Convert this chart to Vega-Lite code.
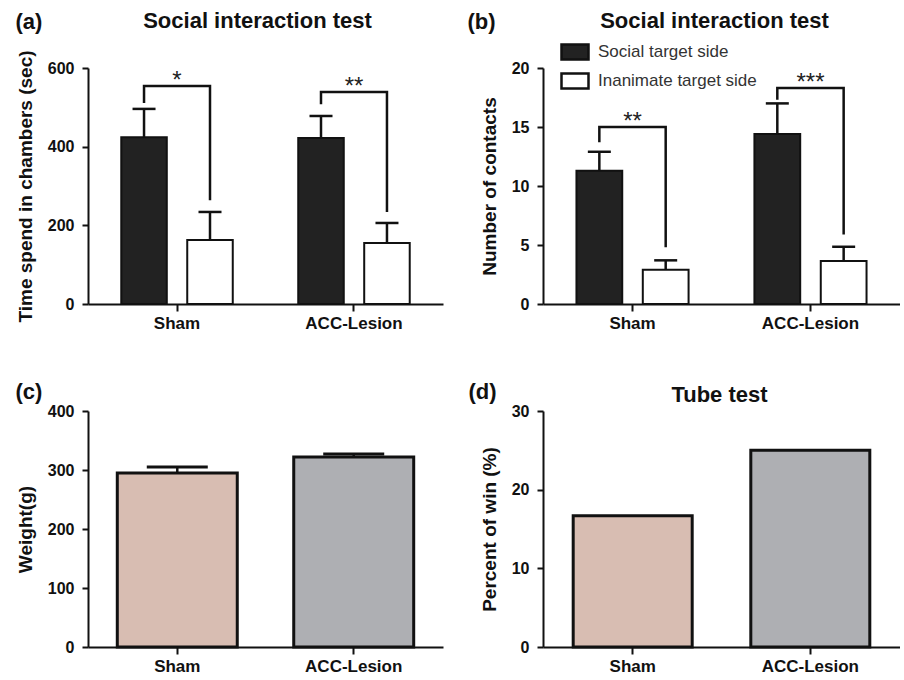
{
  "$schema": "https://vega.github.io/schema/vega-lite/v6.json",
  "background": "white",
  "padding": {"left": 15, "top": 10, "right": 0, "bottom": 0},
  "datasets": {
    "a_bars": [
      {"group": "Sham", "side": "Social target side", "mean": 424, "upper": 496},
      {"group": "Sham", "side": "Inanimate target side", "mean": 163, "upper": 234},
      {"group": "ACC-Lesion", "side": "Social target side", "mean": 422, "upper": 478},
      {"group": "ACC-Lesion", "side": "Inanimate target side", "mean": 155, "upper": 206}
    ],
    "a_brackets": [
      {"group": "Sham", "side": "Social target side", "level": 511, "ord": 1},
      {"group": "Sham", "side": "Social target side", "level": 554, "ord": 2},
      {"group": "Sham", "side": "Inanimate target side", "level": 554, "ord": 3},
      {"group": "Sham", "side": "Inanimate target side", "level": 264, "ord": 4},
      {"group": "ACC-Lesion", "side": "Social target side", "level": 508, "ord": 1},
      {"group": "ACC-Lesion", "side": "Social target side", "level": 539, "ord": 2},
      {"group": "ACC-Lesion", "side": "Inanimate target side", "level": 539, "ord": 3},
      {"group": "ACC-Lesion", "side": "Inanimate target side", "level": 234, "ord": 4}
    ],
    "a_stars": [
      {"group": "Sham", "stars": "*", "level": 554},
      {"group": "ACC-Lesion", "stars": "**", "level": 539}
    ],
    "b_bars": [
      {"group": "Sham", "side": "Social target side", "mean": 11.3, "upper": 12.9},
      {"group": "Sham", "side": "Inanimate target side", "mean": 2.9, "upper": 3.7},
      {"group": "ACC-Lesion", "side": "Social target side", "mean": 14.4, "upper": 17.0},
      {"group": "ACC-Lesion", "side": "Inanimate target side", "mean": 3.65, "upper": 4.85}
    ],
    "b_brackets": [
      {"group": "Sham", "side": "Social target side", "level": 13.7, "ord": 1},
      {"group": "Sham", "side": "Social target side", "level": 15.0, "ord": 2},
      {"group": "Sham", "side": "Inanimate target side", "level": 15.0, "ord": 3},
      {"group": "Sham", "side": "Inanimate target side", "level": 4.8, "ord": 4},
      {"group": "ACC-Lesion", "side": "Social target side", "level": 17.3, "ord": 1},
      {"group": "ACC-Lesion", "side": "Social target side", "level": 18.3, "ord": 2},
      {"group": "ACC-Lesion", "side": "Inanimate target side", "level": 18.3, "ord": 3},
      {"group": "ACC-Lesion", "side": "Inanimate target side", "level": 5.9, "ord": 4}
    ],
    "b_stars": [
      {"group": "Sham", "stars": "**", "level": 15.0},
      {"group": "ACC-Lesion", "stars": "***", "level": 18.3}
    ],
    "c_bars": [
      {"group": "Sham", "mean": 295, "upper": 305},
      {"group": "ACC-Lesion", "mean": 322, "upper": 327}
    ],
    "d_bars": [
      {"group": "Sham", "mean": 16.7},
      {"group": "ACC-Lesion", "mean": 25}
    ]
  },
  "concat": [
    {
      "width": 355, "height": 236,
      "title": {"text": "Social interaction test", "dx": -8, "offset": -23},
      "encoding": {
        "x": {"field": "group", "type": "nominal", "sort": ["Sham", "ACC-Lesion"],
              "scale": {"paddingInner": 0.37, "paddingOuter": 0.188},
              "axis": {"title": "(a)", "titleX": -73, "titleY": -276}}
      },
      "layer": [
        {
          "data": {"name": "a_bars"},
          "mark": {"type": "bar", "stroke": "#111111", "strokeWidth": 2},
          "encoding": {
            "xOffset": {"field": "side", "type": "nominal", "sort": ["Social target side", "Inanimate target side"], "scale": {"paddingInner": 0.31, "paddingOuter": 0}},
            "y": {"field": "mean", "type": "quantitative", "scale": {"domain": [0, 600], "nice": false},
                  "axis": {"values": [0, 200, 400, 600], "title": "Time spend in chambers (sec)"}},
            "color": {"field": "side", "type": "nominal", "scale": {"domain": ["Social target side", "Inanimate target side"], "range": ["#222222", "#ffffff"]}, "legend": null}
          }
        },
        {
          "data": {"name": "a_bars"},
          "mark": {"type": "rule", "strokeWidth": 2.5, "color": "#111111"},
          "encoding": {
            "xOffset": {"field": "side", "type": "nominal", "sort": ["Social target side", "Inanimate target side"]},
            "y": {"field": "mean", "type": "quantitative"},
            "y2": {"field": "upper"}
          }
        },
        {
          "data": {"name": "a_bars"},
          "mark": {"type": "tick", "size": 23, "thickness": 2.5, "color": "#111111", "opacity": 1, "orient": "horizontal"},
          "encoding": {
            "xOffset": {"field": "side", "type": "nominal", "sort": ["Social target side", "Inanimate target side"]},
            "y": {"field": "upper", "type": "quantitative"}
          }
        },
        {
          "data": {"name": "a_brackets"},
          "mark": {"type": "line", "strokeWidth": 2.5, "color": "#111111", "strokeJoin": "miter"},
          "encoding": {
            "xOffset": {"field": "side", "type": "nominal", "sort": ["Social target side", "Inanimate target side"]},
            "y": {"field": "level", "type": "quantitative"},
            "detail": {"field": "group"},
            "order": {"field": "ord", "type": "quantitative"}
          }
        },
        {
          "data": {"name": "a_stars"},
          "mark": {"type": "text", "fontSize": 24, "dy": 2, "baseline": "alphabetic", "color": "#222222", "font": "Liberation Sans"},
          "encoding": {
            "y": {"field": "level", "type": "quantitative"},
            "text": {"field": "stars"}
          }
        }
      ]
    },
    {
      "width": 357, "height": 236,
      "title": {"text": "Social interaction test", "dx": -7, "offset": -23},
      "encoding": {
        "x": {"field": "group", "type": "nominal", "sort": ["Sham", "ACC-Lesion"],
              "scale": {"paddingInner": 0.37, "paddingOuter": 0.188},
              "axis": {"title": "(b)", "titleX": -76, "titleY": -276}}
      },
      "layer": [
        {
          "data": {"name": "b_bars"},
          "mark": {"type": "bar", "stroke": "#111111", "strokeWidth": 2},
          "encoding": {
            "xOffset": {"field": "side", "type": "nominal", "sort": ["Social target side", "Inanimate target side"], "scale": {"paddingInner": 0.31, "paddingOuter": 0}},
            "y": {"field": "mean", "type": "quantitative", "scale": {"domain": [0, 20], "nice": false},
                  "axis": {"values": [0, 5, 10, 15, 20], "title": "Number of contacts"}},
            "color": {"field": "side", "type": "nominal", "sort": ["Social target side", "Inanimate target side"],
                      "scale": {"domain": ["Social target side", "Inanimate target side"], "range": ["#222222", "#ffffff"]},
                      "legend": {"orient": "none", "legendX": 17, "legendY": -31, "title": null, "padding": 0,
                                 "symbolType": "M-1,-0.56H1V0.56H-1Z", "symbolSize": 729,
                                 "symbolStrokeColor": "#111111", "symbolStrokeWidth": 2.5, "symbolOpacity": 1,
                                 "labelFont": "Liberation Sans", "labelFontSize": 17, "labelFontWeight": "normal",
                                 "labelColor": "#333333", "labelOffset": 8, "rowPadding": 1}}
          }
        },
        {
          "data": {"name": "b_bars"},
          "mark": {"type": "rule", "strokeWidth": 2.5, "color": "#111111"},
          "encoding": {
            "xOffset": {"field": "side", "type": "nominal", "sort": ["Social target side", "Inanimate target side"]},
            "y": {"field": "mean", "type": "quantitative"},
            "y2": {"field": "upper"}
          }
        },
        {
          "data": {"name": "b_bars"},
          "mark": {"type": "tick", "size": 23, "thickness": 2.5, "color": "#111111", "opacity": 1, "orient": "horizontal"},
          "encoding": {
            "xOffset": {"field": "side", "type": "nominal", "sort": ["Social target side", "Inanimate target side"]},
            "y": {"field": "upper", "type": "quantitative"}
          }
        },
        {
          "data": {"name": "b_brackets"},
          "mark": {"type": "line", "strokeWidth": 2.5, "color": "#111111", "strokeJoin": "miter"},
          "encoding": {
            "xOffset": {"field": "side", "type": "nominal", "sort": ["Social target side", "Inanimate target side"]},
            "y": {"field": "level", "type": "quantitative"},
            "detail": {"field": "group"},
            "order": {"field": "ord", "type": "quantitative"}
          }
        },
        {
          "data": {"name": "b_stars"},
          "mark": {"type": "text", "fontSize": 24, "dy": 2, "baseline": "alphabetic", "color": "#222222", "font": "Liberation Sans"},
          "encoding": {
            "y": {"field": "level", "type": "quantitative"},
            "text": {"field": "stars"}
          }
        }
      ]
    },
    {
      "width": 355, "height": 236,
      "encoding": {
        "x": {"field": "group", "type": "nominal", "sort": ["Sham", "ACC-Lesion"],
              "scale": {"paddingInner": 0.32, "paddingOuter": 0.166},
              "axis": {"title": "(c)", "titleX": -73, "titleY": -249}}
      },
      "layer": [
        {
          "data": {"name": "c_bars"},
          "mark": {"type": "bar", "stroke": "#111111", "strokeWidth": 3},
          "encoding": {
            "y": {"field": "mean", "type": "quantitative", "scale": {"domain": [0, 400], "nice": false},
                  "axis": {"values": [0, 100, 200, 300, 400], "title": "Weight(g)"}},
            "color": {"field": "group", "type": "nominal", "scale": {"domain": ["Sham", "ACC-Lesion"], "range": ["#d8bdb2", "#aeafb3"]}, "legend": null}
          }
        },
        {
          "data": {"name": "c_bars"},
          "mark": {"type": "rule", "strokeWidth": 2.5, "color": "#111111"},
          "encoding": {
            "y": {"field": "mean", "type": "quantitative"},
            "y2": {"field": "upper"}
          }
        },
        {
          "data": {"name": "c_bars"},
          "mark": {"type": "tick", "size": 61, "thickness": 3, "color": "#111111", "opacity": 1, "orient": "horizontal"},
          "encoding": {
            "y": {"field": "upper", "type": "quantitative"}
          }
        }
      ]
    },
    {
      "width": 357, "height": 236,
      "title": {"text": "Tube test", "dx": -2, "offset": -27},
      "encoding": {
        "x": {"field": "group", "type": "nominal", "sort": ["Sham", "ACC-Lesion"],
              "scale": {"paddingInner": 0.33, "paddingOuter": 0.17},
              "axis": {"title": "(d)", "titleX": -75, "titleY": -249}}
      },
      "layer": [
        {
          "data": {"name": "d_bars"},
          "mark": {"type": "bar", "stroke": "#111111", "strokeWidth": 3},
          "encoding": {
            "y": {"field": "mean", "type": "quantitative", "scale": {"domain": [0, 30], "nice": false},
                  "axis": {"values": [0, 10, 20, 30], "title": "Percent of win (%)"}},
            "color": {"field": "group", "type": "nominal", "scale": {"domain": ["Sham", "ACC-Lesion"], "range": ["#d8bdb2", "#aeafb3"]}, "legend": null}
          }
        }
      ]
    }
  ],
  "columns": 2,
  "spacing": {"row": 107, "column": 100},
  "bounds": "flush",
  "resolve": {
    "scale": {"color": "independent", "x": "independent", "y": "independent", "xOffset": "independent"},
    "legend": {"color": "independent"}
  },
  "config": {
    "view": {"stroke": null},
    "font": "Liberation Sans",
    "axis": {
      "grid": false, "domainColor": "#111111", "domainWidth": 2, "tickColor": "#111111", "tickWidth": 2,
      "labelColor": "#111111", "labelFont": "Liberation Sans", "labelFontWeight": "bold",
      "titleColor": "#111111", "titleFont": "Liberation Sans", "titleFontWeight": "bold"
    },
    "axisX": {
      "labelAngle": 0, "labelFontSize": 17, "tickSize": 7, "labelPadding": 4,
      "titleFontSize": 22, "titleAngle": 0, "titleAlign": "left", "titleBaseline": "alphabetic"
    },
    "axisY": {"labelFontSize": 16, "tickSize": 6, "labelPadding": 8, "titleFontSize": 19, "titlePadding": 12},
    "title": {"fontSize": 22, "fontWeight": "bold", "color": "#111111", "font": "Liberation Sans", "anchor": "middle", "frame": "group", "baseline": "alphabetic"}
  }
}
